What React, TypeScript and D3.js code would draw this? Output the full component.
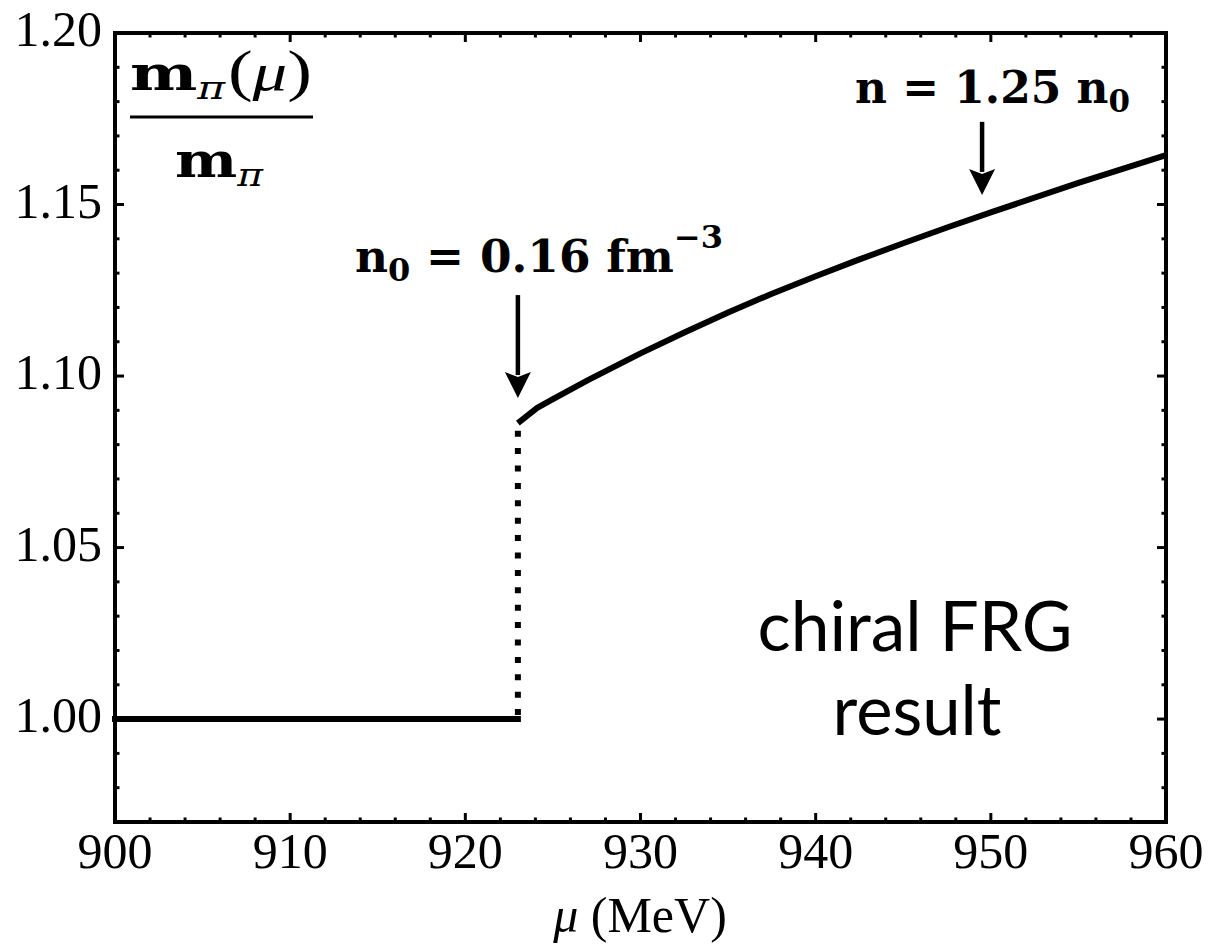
import React from "react";
import * as d3 from "d3";

// ---- data ----
const flatMu = [900, 923.0];
const flatVal = [1.0, 1.0];
const curveMu = [923.0, 924.1, 925, 927, 930, 932.5, 935, 937.5, 940, 942.5, 945, 947.5, 950, 955, 960];
const curveVal = [1.0863, 1.0907, 1.0933, 1.0988, 1.1066, 1.1127, 1.1185, 1.124, 1.1291, 1.134, 1.1387, 1.1433, 1.1477, 1.1563, 1.1644];
const jumpMu = 923.0;
const jumpVals = [1.0, 1.0863];
const xTicks = [900, 910, 920, 930, 940, 950, 960];
const xTickLabels = ["900", "910", "920", "930", "940", "950", "960"];
const yTicks = [1.0, 1.05, 1.1, 1.15, 1.2];
const yTickLabels = ["1.00", "1.05", "1.10", "1.15", "1.20"];
const arrowN0 = { mu: 923.0, from: 1.1236, to: 1.0936 };
const arrowN125 = { mu: 949.5, from: 1.1741, to: 1.1528 };

const W = 1209;
const H = 944;
const L = 115, R = 1166, T = 33, B = 822;

export default function App() {
  const x = d3.scaleLinear().domain([900, 960]).range([L, R]);
  const y = d3.scaleLinear().domain([0.97, 1.2]).range([B, T]);
  const line = d3
    .line<[number, number]>()
    .x((d) => x(d[0]))
    .y((d) => y(d[1]));
  const flatPts = flatMu.map((m, i) => [m, flatVal[i]] as [number, number]);
  const curvePts = curveMu.map((m, i) => [m, curveVal[i]] as [number, number]);

  const xMinor = d3.range(900, 960.001, 2);
  const yMinor = d3.range(0.97, 1.2001, 0.01);
  const isMajorX = (v: number) => Math.abs(v / 10 - Math.round(v / 10)) < 1e-6;
  const isMajorY = (v: number) => Math.abs(v / 0.05 - Math.round(v / 0.05)) < 1e-6;

  const serif = "'Liberation Serif', 'Times New Roman', serif";
  const math = "'DejaVu Serif', serif";
  const major = 9, minor = 4.5;

  const arrow = (a: { mu: number; from: number; to: number }, key: string) => {
    const ax = x(a.mu);
    const y0 = y(a.from);
    const y1 = y(a.to);
    const hl = 26, hw = 13;
    return (
      <g key={key}>
        <line x1={ax} x2={ax} y1={y0} y2={y1 - hl + 3} stroke="#000" strokeWidth={4.5} />
        <path d={`M${ax - hw},${y1 - hl} L${ax},${y1 - hl + 5} L${ax + hw},${y1 - hl} L${ax},${y1} Z`} fill="#000" />
      </g>
    );
  };

  return (
    <svg width={W} height={H} style={{ position: "absolute", left: 0, top: 0, background: "#fff" }}>
      <rect x={0} y={0} width={W} height={H} fill="#fff" />
      {/* data */}
      <path d={line(flatPts) || ""} fill="none" stroke="#000" strokeWidth={6} strokeLinecap="square" />
      <line
        x1={x(jumpMu)}
        x2={x(jumpMu)}
        y1={y(jumpVals[0]) - 4}
        y2={y(jumpVals[1]) + 4}
        stroke="#000"
        strokeWidth={6}
        strokeDasharray="6 11.4"
      />
      <path d={line(curvePts) || ""} fill="none" stroke="#000" strokeWidth={6} strokeLinejoin="round" />

      {/* ticks */}
      {xMinor.map((v, i) => {
        const len = isMajorX(v) ? major : minor;
        return (
          <g key={"xt" + i}>
            <line x1={x(v)} x2={x(v)} y1={B} y2={B - len} stroke="#000" strokeWidth={3} />
            <line x1={x(v)} x2={x(v)} y1={T} y2={T + len} stroke="#000" strokeWidth={3} />
          </g>
        );
      })}
      {yMinor.map((v, i) => {
        const len = isMajorY(v) ? major : minor;
        return (
          <g key={"yt" + i}>
            <line x1={L} x2={L + len} y1={y(v)} y2={y(v)} stroke="#000" strokeWidth={3} />
            <line x1={R} x2={R - len} y1={y(v)} y2={y(v)} stroke="#000" strokeWidth={3} />
          </g>
        );
      })}
      {/* frame */}
      <rect x={L} y={T} width={R - L} height={B - T} fill="none" stroke="#000" strokeWidth={4} />

      {/* tick labels */}
      {xTicks.map((v, i) => (
        <text key={"xl" + i} x={x(v)} y={868} textAnchor="middle" fontFamily={serif} fontSize={50}>
          {xTickLabels[i]}
        </text>
      ))}
      {yTicks.map((v, i) => (
        <text key={"yl" + i} x={102} y={y(v) + 13} textAnchor="end" fontFamily={serif} fontSize={50}>
          {yTickLabels[i]}
        </text>
      ))}

      {/* axis label */}
      <text x={640} y={932} textAnchor="middle" fontFamily={serif} fontSize={50}>
        <tspan fontStyle="italic">μ</tspan>
        <tspan> (MeV)</tspan>
      </text>

      {/* y label fraction */}
      <text x={130} y={90} fontFamily={math} fontSize={48} textLength={182} lengthAdjust="spacingAndGlyphs">
        <tspan fontWeight="bold">m</tspan>
        <tspan fontStyle="italic" fontSize={32} dy={9}>π</tspan>
        <tspan dy={-9} dx={2} fontFamily={serif} fontSize={56}>(</tspan>
        <tspan fontStyle="italic" fontFamily={serif} fontSize={52}>μ</tspan>
        <tspan fontFamily={serif} fontSize={56}>)</tspan>
      </text>
      <line x1={130} x2={313} y1={117} y2={117} stroke="#000" strokeWidth={3} />
      <text x={175} y={177} fontFamily={math} fontSize={48} textLength={88} lengthAdjust="spacingAndGlyphs">
        <tspan fontWeight="bold">m</tspan>
        <tspan fontStyle="italic" fontSize={32} dy={9}>π</tspan>
      </text>

      {/* annotations */}
      <text x={355} y={272} fontFamily={math} fontSize={44} fontWeight="bold" textLength={368} lengthAdjust="spacingAndGlyphs">
        <tspan>n</tspan>
        <tspan fontSize={31} dy={9}>0</tspan>
        <tspan dy={-9}> = 0.16 fm</tspan>
        <tspan fontSize={31} dy={-24}>−3</tspan>
      </text>
      <text x={855} y={103} fontFamily={math} fontSize={44} fontWeight="bold" textLength={275} lengthAdjust="spacingAndGlyphs">
        <tspan>n = 1.25 n</tspan>
        <tspan fontSize={31} dy={9}>0</tspan>
      </text>
      {arrow(arrowN0, "a1")}
      {arrow(arrowN125, "a2")}

      <text x={915} y={651} textAnchor="middle" fontFamily="Lato, 'Open Sans', sans-serif" fontSize={69} textLength={315} lengthAdjust="spacingAndGlyphs">
        chiral FRG
      </text>
      <text x={917} y={735} textAnchor="middle" fontFamily="Lato, 'Open Sans', sans-serif" fontSize={69} textLength={169} lengthAdjust="spacingAndGlyphs">
        result
      </text>
    </svg>
  );
}
